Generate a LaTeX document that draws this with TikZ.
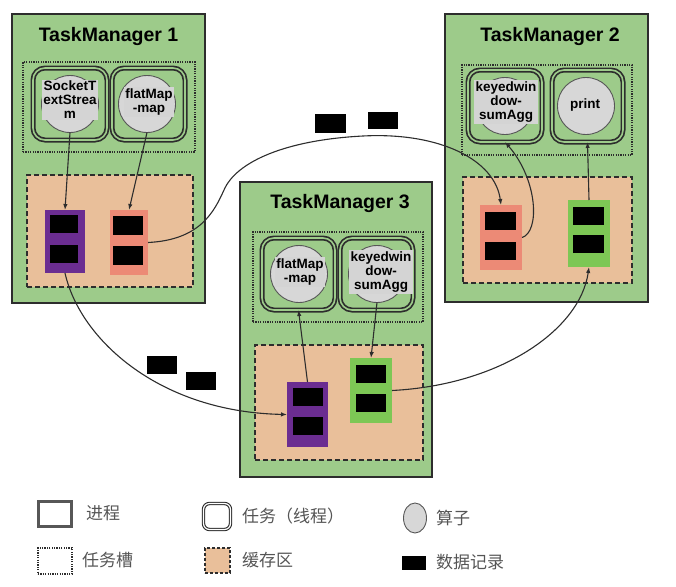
\documentclass[tikz,border=0pt]{standalone}
\usepackage{fontspec}
\setmainfont{Liberation Sans}
\newfontfamily\cjk{Noto Sans CJK SC}
\usetikzlibrary{arrows.meta}
\definecolor{tmgreen}{RGB}{157,203,138}
\definecolor{peach}{RGB}{233,191,154}
\definecolor{chpurple}{RGB}{107,45,145}
\definecolor{chsalmon}{RGB}{236,138,118}
\definecolor{chgreen}{RGB}{125,199,85}
\definecolor{opgray}{RGB}{215,215,215}
\definecolor{lblgray}{RGB}{212,212,212}
\definecolor{edge}{RGB}{45,45,45}
\definecolor{legtext}{RGB}{85,85,85}
\tikzset{
  every node/.style={inner sep=0pt, outer sep=0pt},
  tm/.style={draw=edge, line width=2.4pt, fill=tmgreen},
  slot/.style={draw=edge, line width=2pt, dash pattern=on 1.2pt off 1.2pt},
  taskbox/.style={draw=edge, line width=1.7pt, double=tmgreen, double distance=1.6pt, rounded corners=12pt},
  opcirc/.style={circle, draw=edge!80, line width=0.9pt, fill=opgray, minimum size=57pt},
  lbl/.style={fill=lblgray, inner sep=1.5pt, align=center, font=\fontsize{13.5}{14}\selectfont\bfseries},
  buf/.style={draw=edge, line width=1.8pt, dash pattern=on 5pt off 3pt, fill=peach},
  rec/.style={fill=black, minimum width=30pt, minimum height=18pt},
  title/.style={font=\fontsize{19.5}{21}\selectfont\bfseries},
  conn/.style={draw=edge, line width=1.1pt, -{Latex[length=6pt,width=4.5pt]}},
  legt/.style={anchor=west, text=legtext, font=\cjk\fontsize{17}{18}\selectfont},
}
\begin{document}
\begin{tikzpicture}[x=1pt,y=-1pt]
\useasboundingbox (0,0) rectangle (676,586);
% ---------- TaskManager 1 ----------
\node[tm, minimum width=193pt, minimum height=289pt] (tm1) at (108.5,158.5) {};
\node[title] (tm1t) at (108.5,37) {TaskManager 1};
\node[slot, minimum width=172pt, minimum height=90pt] (s1) at (109,107) {};
\node[taskbox, minimum width=74pt, minimum height=72pt] (t11) at (70,104) {};
\node[taskbox, minimum width=73pt, minimum height=72pt] (t12) at (148.5,104) {};
\node[opcirc] (c11) at (70,104) {};
\node[opcirc] (c12) at (147,104) {};
\node[lbl] (l11) at (70,100) {SocketT\\extStrea\\m};
\node[lbl] (l12) at (149,102) {flatMap\\-map};
\node[buf, minimum width=166pt, minimum height=112pt] (b1) at (110,231) {};
\node[fill=chpurple, minimum width=40pt, minimum height=63pt] (ch1a) at (65,241.5) {};
\node[rec, minimum width=28pt] (r1a1) at (64,224) {};
\node[rec, minimum width=28pt] (r1a2) at (64,254) {};
\node[fill=chsalmon, minimum width=38pt, minimum height=65pt] (ch1b) at (129,242.5) {};
\node[rec, minimum height=19pt] (r1b1) at (128,225.5) {};
\node[rec, minimum height=19pt] (r1b2) at (128,255.5) {};
% ---------- TaskManager 2 ----------
\node[tm, minimum width=203pt, minimum height=288pt] (tm2) at (546.5,158) {};
\node[title] (tm2t) at (550,37) {TaskManager 2};
\node[slot, minimum width=170pt, minimum height=90pt] (s2) at (547,110) {};
\node[taskbox, minimum width=74pt, minimum height=72pt] (t21) at (505,106) {};
\node[taskbox, minimum width=71pt, minimum height=72pt] (t22) at (587.5,106) {};
\node[opcirc] (c21) at (505,106) {};
\node[opcirc] (c22) at (586,106) {};
\node[lbl] (l21) at (506,102) {keyedwin\\dow-\\sumAgg};
\node[font=\fontsize{13.5}{14}\selectfont\bfseries] (l22) at (585,105) {print};
\node[buf, minimum width=169pt, minimum height=106pt] (b2) at (547.5,230) {};
\node[fill=chsalmon, minimum width=42pt, minimum height=65pt] (ch2a) at (501,237.5) {};
\node[rec, minimum width=31pt] (r2a1) at (500.5,221) {};
\node[rec, minimum width=31pt] (r2a2) at (500.5,251) {};
\node[fill=chgreen, minimum width=42pt, minimum height=67pt] (ch2b) at (589,233.5) {};
\node[rec, minimum width=31pt] (r2b1) at (588.5,216) {};
\node[rec, minimum width=31pt] (r2b2) at (588.5,244) {};
% ---------- TaskManager 3 ----------
\node[tm, minimum width=192pt, minimum height=295pt] (tm3) at (336,329.5) {};
\node[title] (tm3t) at (340,203) {TaskManager 3};
\node[slot, minimum width=170pt, minimum height=90pt] (s3) at (338,277) {};
\node[taskbox, minimum width=73pt, minimum height=72pt] (t31) at (298.5,274) {};
\node[taskbox, minimum width=73pt, minimum height=72pt] (t32) at (376.5,274) {};
\node[opcirc] (c31) at (299,274) {};
\node[opcirc] (c32) at (377,274) {};
\node[lbl] (l31) at (300,272) {flatMap\\-map};
\node[lbl] (l32) at (381,272) {keyedwin\\dow-\\sumAgg};
\node[buf, minimum width=168pt, minimum height=115pt] (b3) at (339,402.5) {};
\node[fill=chpurple, minimum width=41pt, minimum height=65pt] (ch3a) at (307.5,414.5) {};
\node[rec] (r3a1) at (307.5,396.5) {};
\node[rec] (r3a2) at (307.5,426) {};
\node[fill=chgreen, minimum width=42pt, minimum height=65pt] (ch3b) at (371,390.5) {};
\node[rec] (r3b1) at (371,374) {};
\node[rec] (r3b2) at (371,402.5) {};
% ---------- records in transit ----------
\node[rec, minimum width=31pt, minimum height=19pt] (f1) at (330.5,123.5) {};
\node[rec, minimum height=17pt] (f2) at (383,120.5) {};
\node[rec] (f3) at (162,365) {};
\node[rec] (f4) at (201,381) {};
% ---------- connectors ----------
\draw[conn] (c11.south) -- (ch1a.north);
\draw[conn] (c12.south) -- (ch1b.north);
\draw[conn] (ch1b.east) .. controls (200,240) and (214,212) .. (224,190)
   .. controls (236,162) and (285,140) .. (363,136)
   .. controls (440,132) and (495,160) .. (ch2a.north);
\draw[conn] (ch1a.south) .. controls (80,340) and (160,412) .. (ch3a.west);
\draw[conn] (ch3b.east) .. controls (500,385) and (580,330) .. (ch2b.south);
\draw[conn] (ch2a.east) .. controls (540,232) and (538,180) .. (t21.south);
\draw[conn] (ch2b.north) -- (t22.south);
\draw[conn] (ch3a.north) -- (t31.south);
\draw[conn] (c32.south) -- (ch3b.north);
% ---------- legend ----------
\node[draw=edge!80, line width=2.6pt, minimum width=33pt, minimum height=25pt] (lg1) at (55,514) {};
\node[legt] (lg1t) at (86,513) {进程};
\node[draw=edge, line width=1.1pt, double=white, double distance=1.2pt, rounded corners=6pt, minimum width=27pt, minimum height=26pt] (lg2) at (217,516.5) {};
\node[legt] (lg2t) at (242,516) {任务（线程）};
\coordinate (lg3) at (415,518);
\draw[draw=edge!80, line width=0.9pt, fill=opgray] (lg3) ellipse (11.5pt and 15pt);
\node[legt] (lg3t) at (436,518) {算子};
\node[slot, line width=1.2pt, minimum width=34pt, minimum height=26pt] (lg4) at (55,561) {};
\node[legt] (lg4t) at (82,560) {任务槽};
\node[buf, line width=1.5pt, dash pattern=on 3pt off 2pt, minimum width=25pt, minimum height=25pt] (lg5) at (217.5,560.5) {};
\node[legt] (lg5t) at (242,560) {缓存区};
\node[rec, minimum width=24pt, minimum height=14pt] (lg6) at (414,563) {};
\node[legt] (lg6t) at (436,562) {数据记录};
\end{tikzpicture}
\end{document}
